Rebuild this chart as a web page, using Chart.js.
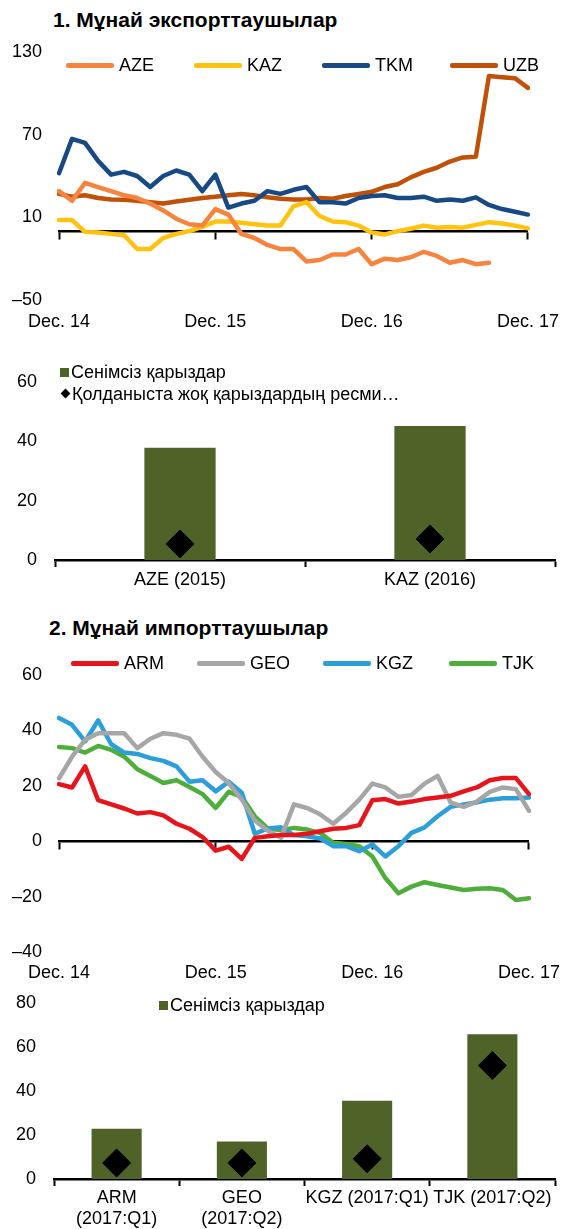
<!DOCTYPE html>
<html lang="kk">
<head>
<meta charset="utf-8">
<title>Мұнай экспорттаушылар мен импорттаушылар</title>
<script src="https://cdn.jsdelivr.net/npm/chart.js@4.4.1/dist/chart.umd.min.js"></script>
<style>
    html, body { margin: 0; padding: 0; background: #fff; }
    body { font-family: 'Liberation Sans', Arial, sans-serif; color: #000; }
    .page { position: relative; width: 570px; height: 1229px; overflow: hidden; }
    .panel { position: absolute; left: 0; width: 570px; }
    .title { position: absolute; margin: 0; font-size: 21px; font-weight: bold; line-height: 24px; white-space: nowrap; }
    .legend { position: absolute; font-size: 18px; line-height: 20px; white-space: nowrap; }
    .legend-item { position: absolute; top: 0; left: 0; display: flex; align-items: center; height: 20px; }
    .swatch-line { display: inline-block; width: 48px; height: 5px; margin-right: 5px; border-radius: 2px; }
    .swatch-box { display: inline-block; width: 9px; height: 9px; margin-right: 2px; }
    .swatch-diamond { display: inline-block; width: 7px; height: 7px; margin: 0 3px 0 2px; transform: rotate(45deg); }
</style>
</head>
<body>
<div class="page">
    <h2 class="title" style="left: 53px; top: 8px;">1. Мұнай экспорттаушылар</h2>
    <div class="panel" style="top: 36px; height: 304px;"><canvas id="exporters-chart"></canvas></div>
    <div class="legend" id="exporters-legend" style="left: 66px; top: 55px;"></div>

    <div class="panel" style="top: 350px; height: 255px;"><canvas id="exporters-npl-chart"></canvas></div>
    <div class="legend" id="exporters-npl-legend" style="left: 60px; top: 362px;"></div>

    <h2 class="title" style="left: 49px; top: 616px;">2. Мұнай импорттаушылар</h2>
    <div class="panel" style="top: 655px; height: 340px;"><canvas id="importers-chart"></canvas></div>
    <div class="legend" id="importers-legend" style="left: 71px; top: 653px;"></div>

    <div class="panel" style="top: 985px; height: 244px;"><canvas id="importers-npl-chart"></canvas></div>
    <div class="legend" id="importers-npl-legend" style="left: 159px; top: 995px;"></div>
</div>

<script>
const months = [
    'Dec. 14', 'Jan. 15', 'Feb. 15', 'Mar. 15', 'Apr. 15', 'May 15', 'Jun. 15',
    'Jul. 15', 'Aug. 15', 'Sep. 15', 'Oct. 15', 'Nov. 15', 'Dec. 15',
    'Jan. 16', 'Feb. 16', 'Mar. 16', 'Apr. 16', 'May 16', 'Jun. 16',
    'Jul. 16', 'Aug. 16', 'Sep. 16', 'Oct. 16', 'Nov. 16', 'Dec. 16',
    'Jan. 17', 'Feb. 17', 'Mar. 17', 'Apr. 17', 'May 17', 'Jun. 17',
    'Jul. 17', 'Aug. 17', 'Sep. 17', 'Oct. 17', 'Nov. 17', 'Dec. 17',
];

// 1. Oil exporters, monthly
const aze = [29, 22, 35, 32, 29, 26, 24, 20, 15, 9, 5, 4, 16, 12, -2, -5, -10, -13, -13, -22,
    -21, -17, -17, -13, -24, -20, -21, -19, -15, -18, -23, -21, -24, -23, null, null, null];
const kaz = [8, 8, -0.5, -1, -2, -3, -13, -13, -5, -2, 0, 3, 7, 7, 6, 5, 4, 4, 18, 21,
    11, 7, 6.5, 4, -1, -2.4, 0, 1.7, 4, 2.5, 3, 2.5, 4.5, 6.5, 5.5, 4, 2];
const tkm = [42, 67, 64, 51, 41, 43, 40, 32, 40, 44, 41, 29, 41, 17, 20, 22, 29, 27, 30, 32,
    21, 21, 20, 24, 25.5, 26, 24, 24, 25, 22, 23, 22, 24.5, 19, 16, 14, 12];
const uzb = [27, 25, 26, 24, 23, 22.7, 22, 21, 20, 21.5, 22.7, 24, 25, 26, 27, 26, 24.5, 23.5, 23, 23,
    24, 23.5, 25.5, 27, 28.5, 32, 34, 39, 43, 46, 50.5, 53.5, 54, 112.5, 111.7, 111, 104];

// 2. Oil importers, monthly
const arm = [20.6, 19.4, 27, 14.8, 13.3, 11.8, 10, 10.5, 9.3, 6.3, 4.5, 1.5, -3.4, -2, -6.4, 1.2, 1.8, 2.2, 2.2, 2.7,
    3.6, 4.5, 4.8, 5.8, 14.8, 15.2, 13.6, 14.3, 15.2, 15.8, 16.4, 18, 19.4, 22, 22.8, 22.8, 17];
const geo = [22.7, 30.5, 36.6, 39, 39, 39, 33.6, 37, 39, 38.4, 37, 30.5, 25, 21, 15, 7.5, 3.8, 1.2, 13.3, 12,
    9.7, 6.3, 10.3, 15, 20.8, 19.4, 16, 16.7, 20.8, 23.6, 14, 12.4, 14.3, 17.8, 19.4, 18.8, 11];
const kgz = [44.5, 42, 36, 43.6, 35, 32, 31.5, 30, 29, 27, 21.5, 22, 18, 21.5, 17.5, 2.7, 4.6, 5, 2.2, 1.8,
    1, -1.8, -1.8, -3.6, -1.2, -5.5, -1.8, 3, 5, 9, 12.4, 13.3, 14, 15, 15.5, 15.5, 15.8];
const tjk = [34, 33.6, 32, 34.4, 33, 30.5, 26, 23.5, 21, 22, 19.6, 17, 12, 17.8, 16, 9, 4.5, 4, 4.8, 4.2,
    3, -0.6, -1, -1.8, -5.5, -13.3, -18.8, -16.4, -14.8, -15.8, -16.7, -17.6, -17.2, -17, -17.6, -21.2, -20.6];

// Non-performing loans, per cent
const exporterCountries = ['AZE (2015)', 'KAZ (2016)'];
const exporterNpl = [37.8, 45.2];
const exporterOfficialNpl = [5.4, 7.1];

const importerCountries = [['ARM', '(2017:Q1)'], ['GEO', '(2017:Q2)'], 'KGZ (2017:Q1)', 'TJK (2017:Q2)'];
const importerNpl = [22.8, 17, 35.6, 65.8];
const importerOfficialNpl = [7.3, 7.3, 9.2, 51.6];

const nplLabel = 'Сенімсіз қарыздар';
const officialNplLabel = 'Қолданыста жоқ қарыздардың ресми…';

Chart.defaults.font.family = "'Liberation Sans', Arial, sans-serif";
Chart.defaults.font.size = 18;
Chart.defaults.color = '#000';
Chart.defaults.animation = false;
Chart.defaults.plugins.legend.display = false;
Chart.defaults.plugins.tooltip.enabled = false;

function formatTick(value) {
    return value < 0 ? `–${Math.abs(value)}` : `${value}`;
}

function lineDataset(label, data, color) {
    return {
        label,
        data,
        borderColor: color,
        backgroundColor: color,
        borderWidth: 4.5,
        borderJoinStyle: 'round',
        borderCapStyle: 'round',
        pointRadius: 0,
        tension: 0,
    };
}

function buildLineChart(canvasId, datasets, yAxis, frame) {
    const canvas = document.getElementById(canvasId);

    return new Chart(canvas, {
        type: 'line',
        data: {
            labels: months,
            datasets,
        },
        options: {
            responsive: true,
            maintainAspectRatio: false,
            layout: {
                padding: { top: frame.top, right: 39, bottom: 0, left: 0 },
            },
            scales: {
                x: {
                    ticks: {
                        autoSkip: false,
                        maxRotation: 0,
                        padding: frame.labelPadding,
                        callback(value, index) {
                            return index % 12 === 0 ? this.getLabelForValue(value) : '';
                        },
                    },
                    grid: { display: false, drawTicks: false },
                    border: { display: false },
                    afterFit(scale) {
                        scale.height = frame.axisHeight;
                    },
                },
                xZero: {
                    type: 'category',
                    axis: 'x',
                    position: { y: 0 },
                    ticks: { display: false, autoSkip: false },
                    grid: {
                        drawOnChartArea: false,
                        drawTicks: true,
                        tickLength: 7,
                        tickWidth: 2,
                        tickColor: (context) => (context.index % 12 === 0 ? '#000' : 'rgba(0, 0, 0, 0)'),
                    },
                    border: { display: true, color: '#000', width: 2.5 },
                },
                y: {
                    min: yAxis.min,
                    max: yAxis.max,
                    ticks: {
                        stepSize: yAxis.step,
                        padding: 0,
                        callback: formatTick,
                    },
                    // hidden tick marks only keep the labels clear of the plot
                    grid: { display: false, drawTicks: true, tickLength: 17 },
                    border: { display: false },
                    afterFit(scale) {
                        scale.width = 59;
                    },
                },
            },
        },
    });
}

function buildBarChart(canvasId, labels, npl, officialNpl, frame) {
    const canvas = document.getElementById(canvasId);

    return new Chart(canvas, {
        type: 'bar',
        data: {
            labels,
            datasets: [
                {
                    label: nplLabel,
                    data: npl,
                    backgroundColor: '#4F6228',
                    categoryPercentage: 1,
                    barPercentage: frame.barPercentage,
                    order: 1,
                },
                {
                    type: 'line',
                    label: officialNplLabel,
                    data: officialNpl,
                    showLine: false,
                    pointStyle: 'rectRot',
                    pointRadius: 14,
                    pointBorderWidth: 1,
                    pointBackgroundColor: '#000',
                    pointBorderColor: '#000',
                    order: 0,
                },
            ],
        },
        options: {
            responsive: true,
            maintainAspectRatio: false,
            layout: {
                padding: { top: frame.top, right: frame.right, bottom: 0, left: 0 },
            },
            scales: {
                x: {
                    ticks: {
                        autoSkip: false,
                        maxRotation: 0,
                        padding: frame.labelPadding,
                    },
                    grid: {
                        drawOnChartArea: false,
                        drawTicks: true,
                        tickLength: 7,
                        tickWidth: 2,
                        tickColor: '#000',
                    },
                    border: { display: true, color: '#000', width: 2.5 },
                    afterFit(scale) {
                        scale.height = frame.axisHeight;
                    },
                },
                y: {
                    min: 0,
                    max: frame.max,
                    ticks: {
                        stepSize: 20,
                        padding: 0,
                        callback: formatTick,
                    },
                    grid: { display: false, drawTicks: true, tickLength: 18 },
                    border: { display: false },
                    afterFit(scale) {
                        scale.width = frame.left;
                    },
                },
            },
        },
    });
}

function renderLineLegend(chart, elementId, pitch) {
    const container = document.getElementById(elementId);

    chart.data.datasets.forEach((dataset, index) => {
        const item = document.createElement('span');
        item.className = 'legend-item';
        item.style.left = `${index * pitch}px`;

        const swatch = document.createElement('span');
        swatch.className = 'swatch-line';
        swatch.style.background = dataset.borderColor;

        item.append(swatch, document.createTextNode(dataset.label));
        container.append(item);
    });
}

function renderBarLegend(chart, elementId, count) {
    const container = document.getElementById(elementId);

    chart.data.datasets.slice(0, count).forEach((dataset, index) => {
        const item = document.createElement('span');
        item.className = 'legend-item';
        item.style.top = `${index * 21.6}px`;

        const swatch = document.createElement('span');
        const isMarker = dataset.type === 'line';
        swatch.className = isMarker ? 'swatch-diamond' : 'swatch-box';
        swatch.style.background = isMarker ? dataset.pointBackgroundColor : dataset.backgroundColor;

        item.append(swatch, document.createTextNode(dataset.label));
        container.append(item);
    });
}

const exportersChart = buildLineChart(
    'exporters-chart',
    [
        lineDataset('AZE', aze, '#F7843E'),
        lineDataset('KAZ', kaz, '#FFC20E'),
        lineDataset('TKM', tkm, '#174A84'),
        lineDataset('UZB', uzb, '#BF5108'),
    ],
    { min: -50, max: 130, step: 60 },
    { top: 16, axisHeight: 40, labelPadding: 11 },
);
renderLineLegend(exportersChart, 'exporters-legend', 128);

const exportersNplChart = buildBarChart(
    'exporters-npl-chart',
    exporterCountries,
    exporterNpl,
    exporterOfficialNpl,
    { top: 32, right: 2, left: 55, max: 60, axisHeight: 45, labelPadding: 2, barPercentage: 0.285 },
);
renderBarLegend(exportersNplChart, 'exporters-npl-legend', 2);

const importersChart = buildLineChart(
    'importers-chart',
    [
        lineDataset('ARM', arm, '#E8141B'),
        lineDataset('GEO', geo, '#A6A6A6'),
        lineDataset('KGZ', kgz, '#2C9FDB'),
        lineDataset('TJK', tjk, '#4DAF3A'),
    ],
    { min: -40, max: 60, step: 20 },
    { top: 20, axisHeight: 43, labelPadding: 10 },
);
renderLineLegend(importersChart, 'importers-legend', 126);

const importersNplChart = buildBarChart(
    'importers-npl-chart',
    importerCountries,
    importerNpl,
    importerOfficialNpl,
    { top: 18, right: 1, left: 54, max: 80, axisHeight: 50, labelPadding: 1, barPercentage: 0.4 },
);
renderBarLegend(importersNplChart, 'importers-npl-legend', 1);
</script>
</body>
</html>
